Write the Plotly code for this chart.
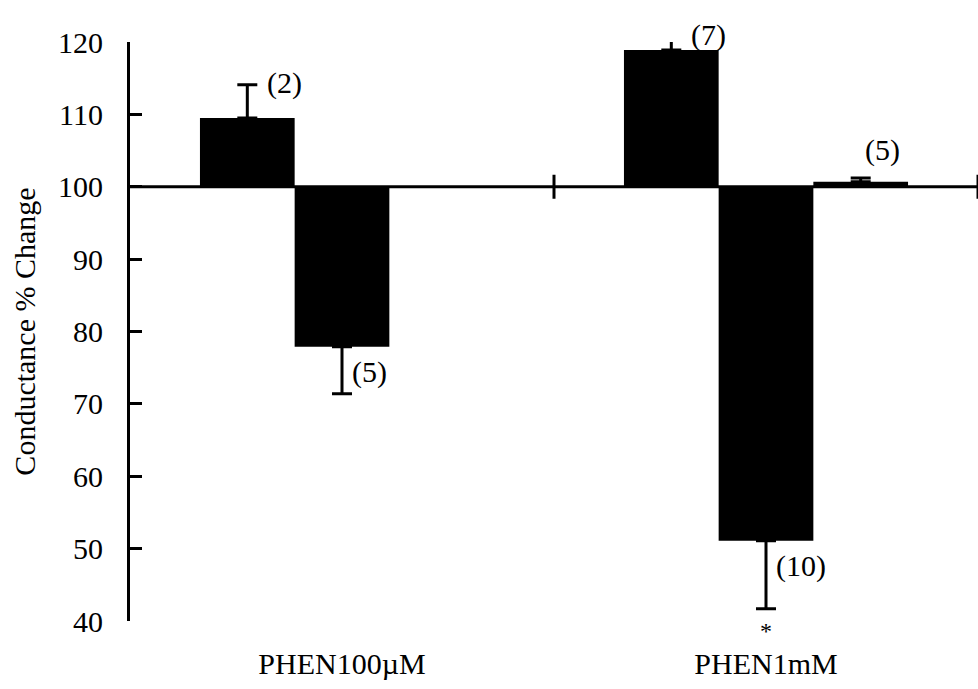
import plotly.graph_objects as go

# Conductance change (% of control) for each treatment
categories = ["PHEN100µM", "PHEN1mM"]

series_a = [109.5, 118.9]
series_a_err = [4.6, 1.8]
series_a_n = ["(2)", "(7)"]

series_b = [77.9, 51.1]
series_b_err = [6.5, 9.4]
series_b_n = ["(5)", "(10)"]

series_c = [None, 100.7]
series_c_err = [None, 0.5]
series_c_n = [None, "(5)"]

significant = [None, "*"]

baseline = 100
y_ticks = [40, 50, 60, 70, 80, 90, 100, 110, 120]
y_range = [40, 120]

FONT = "Liberation Serif"
BAR_GAP = 0.33
N_SERIES = 3
slot = (1 - BAR_GAP) / N_SERIES

W, H = 978, 689
MARGIN = dict(l=130, r=0, t=42, b=68)
px_per_unit = (H - MARGIN["t"] - MARGIN["b"]) / (y_range[1] - y_range[0])


def rel(vals):
    return [None if v is None else v - baseline for v in vals]


fig = go.Figure()

err_style = dict(type="data", symmetric=False, color="black", thickness=3, width=10)

fig.add_trace(go.Bar(
    x=categories, y=rel(series_a), base=baseline,
    marker=dict(color="black", line=dict(width=0)),
    error_y=dict(array=series_a_err, arrayminus=[0, 0], **err_style),
    cliponaxis=False, showlegend=False,
))
fig.add_trace(go.Bar(
    x=categories, y=rel(series_b), base=baseline,
    marker=dict(color="black", line=dict(width=0)),
    error_y=dict(array=[0, 0], arrayminus=series_b_err, **err_style),
    cliponaxis=False, showlegend=False,
))
fig.add_trace(go.Bar(
    x=categories, y=rel(series_c), base=baseline,
    marker=dict(color="black", line=dict(width=0)),
    error_y=dict(array=series_c_err, arrayminus=[0, 0], **err_style),
    cliponaxis=False, showlegend=False,
))

annotations = []
label_font = dict(family=FONT, size=30, color="black")

for i in range(len(categories)):
    # n next to the error cap of the upward bars (anchored at the bar top,
    # lifted by the error length so it stays drawable above the axis range)
    annotations.append(dict(x=i - slot, y=series_a[i], text=series_a_n[i],
                            xref="x", yref="y", xanchor="left", yanchor="middle",
                            xshift=18, yshift=series_a_err[i] * px_per_unit + 2,
                            showarrow=False, font=label_font))
    # n beside the error whisker of the downward bars
    annotations.append(dict(x=i, y=series_b[i], text=series_b_n[i],
                            xref="x", yref="y", xanchor="left", yanchor="middle",
                            xshift=8, yshift=-25, showarrow=False, font=label_font))
    if series_c[i] is not None:
        annotations.append(dict(x=i + slot, y=series_c[i] + series_c_err[i], text=series_c_n[i],
                                xref="x", yref="y", xanchor="center", yanchor="middle",
                                xshift=22, yshift=28, showarrow=False, font=label_font))
    if significant[i]:
        annotations.append(dict(x=i, y=series_b[i] - series_b_err[i], text=significant[i],
                                xref="x", yref="y", xanchor="center", yanchor="middle",
                                yshift=-22, showarrow=False,
                                font=dict(family=FONT, size=24, color="black")))

shapes = [
    # baseline at 100 % acting as the category axis
    dict(type="line", xref="x", yref="y", x0=-0.5, x1=1.5, y0=baseline, y1=baseline,
         line=dict(color="black", width=3), layer="above"),
]
for b in [0.5, 1.5]:
    shapes.append(dict(type="line", xref="x", yref="y", ysizemode="pixel", yanchor=baseline,
                       x0=b, x1=b, y0=-12, y1=12, line=dict(color="black", width=3),
                       layer="above"))

fig.update_layout(
    width=W, height=H,
    margin=MARGIN,
    paper_bgcolor="white", plot_bgcolor="white",
    barmode="group", bargap=BAR_GAP, bargroupgap=0,
    font=dict(family=FONT, color="black"),
    annotations=annotations,
    shapes=shapes,
    xaxis=dict(range=[-0.5, 1.5], showline=False, ticks="", showgrid=False, zeroline=False,
               tickfont=dict(family=FONT, size=30, color="black"), ticklabelstandoff=22),
    yaxis=dict(range=y_range, tickvals=y_ticks, showline=True, linecolor="black", linewidth=3,
               ticks="inside", ticklen=12, tickwidth=3, tickcolor="black",
               showgrid=False, zeroline=False,
               tickfont=dict(family=FONT, size=30, color="black"), ticklabelstandoff=18,
               title=dict(text="Conductance % Change", font=dict(family=FONT, size=30, color="black"),
                          standoff=14)),
)

fig.write_html("out.html")
